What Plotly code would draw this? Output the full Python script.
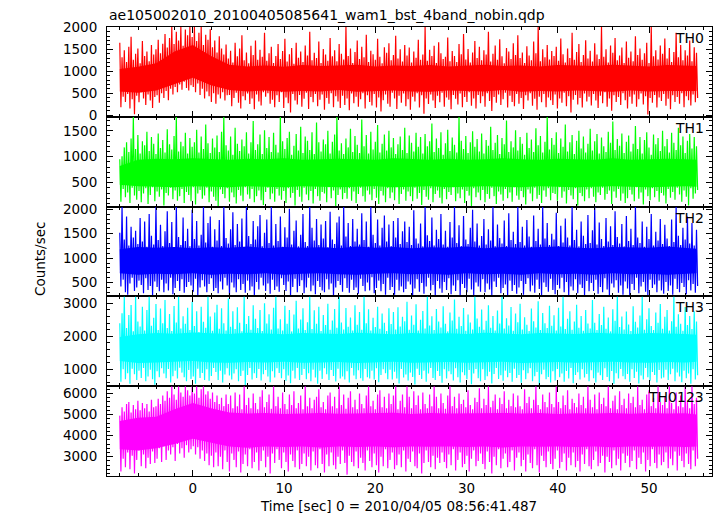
import numpy as np
import plotly.graph_objects as go
from plotly.subplots import make_subplots

# ---------------- data ----------------
TITLE = "ae105002010_20100405085641_wam1_bst_4band_nobin.qdp"
BANDS = ["TH0", "TH1", "TH2", "TH3", "TH0123"]
COLORS = ["#ff0000", "#00ff00", "#0000ff", "#00ffff", "#ff00ff"]
T_START, T_END = -8.0, 55.2          # time span of the light curves (s)

# local peak / trough count rates (counts/s), ~0.25 s apart
TH0_HI = [1650, 1320, 1480, 1210, 1560, 1790, 1260, 1400, 1520, 1180, 1690, 1350, 1450, 1230, 1600, 1380,
          1500, 1720, 1410, 1630, 1850, 1540, 1760, 2010, 1620, 1900, 1700, 2010, 1580, 1950, 1820, 2010,
          1780, 2010, 1690, 1880, 2010, 1600, 1830, 1720, 1960, 1550, 1700, 1430, 1800, 1520, 1380, 1610,
          1290, 1470, 1200, 1650, 1340, 1520, 1820, 1250, 1430, 1180, 1580, 1370, 1700, 1260, 1490, 1330,
          1880, 1240, 1410, 1560, 1190, 1350, 1620, 1280, 1460, 1740, 1220, 1390, 1530, 1170, 1650, 1310,
          1450, 1210, 1590, 1360, 1900, 1250, 1420, 1300, 1680, 1190, 1510, 1380, 1240, 1760, 1340, 1480,
          1230, 1620, 1400, 1270, 2010, 1350, 1520, 1190, 1440, 1700, 1280, 1560, 1320, 1830, 1210, 1470,
          1390, 1260, 1740, 1330, 1180, 1550, 1420, 1640, 1250, 1370, 1810, 1290, 1500, 1220, 1600, 1360,
          1540, 1200, 1450, 1310, 1720, 1260, 1380, 2010, 1240, 1490, 1350, 1580, 1190, 1660, 1410, 1280,
          1330, 1770, 1230, 1460, 1350, 1210, 1620, 1390, 1850, 1270, 1510, 1200, 1430, 1690, 1300, 1560,
          1250, 1480, 1380, 1900, 1220, 1400, 1590, 1260, 1730, 1340, 1180, 1530, 1450, 1280, 1640, 1370,
          1820, 1300, 1430, 1190, 1570, 1360, 1250, 1680, 1410, 2010, 1230, 1500, 1320, 1600, 1270, 1460,
          1350, 1560, 1240, 1750, 1390, 1200, 1520, 1300, 1880, 1260, 1440, 1620, 1210, 1370, 1710, 1290,
          1470, 1220, 1640, 1380, 1280, 2010, 1330, 1500, 1200, 1590, 1420, 1760, 1250, 1360, 1540, 1190,
          1680, 1310, 1450, 1230, 1800, 1370, 1520, 1260, 1410, 1650, 1190, 2010, 1340, 1480, 1270, 1590,
          1400, 1750, 1290, 1530, 1210, 1440, 1880, 1320, 1600, 1250, 1480, 1360, 1700, 1230, 1550, 1420]
TH0_LO = [180, 420, 300, 480, 150, 360, 20, 440, 290, 520, 380, 230, 470, 330, 160, 410,
          450, 280, 500, 390, 550, 340, 600, 470, 640, 520, 700, 580, 760, 620, 560, 680,
          640, 520, 720, 460, 600, 380, 540, 430, 300, 500, 260, 470, 380, 520, 330, 450,
          460, 200, 390, 510, 280, 150, 430, 340, 490, 250, 380, 130, 470, 310, 220, 520,
          420, 500, 260, 350, 180, 450, 300, 520, 160, 400, 270, 60, 480, 330, 240, 460,
          190, 370, 510, 140, 410, 290, 480, 200, 350, 470, 120, 390, 260, 500, 180, 430,
          310, 160, 440, 230, 380, 110, 490, 270, 420, 190, 360, 500, 150, 450, 300, 220,
          480, 170, 400, 80, 340, 470, 260, 190, 510, 380, 140, 440, 280, 490, 200, 360,
          120, 420, 310, 500, 170, 450, 30, 380, 250, 470, 330, 160, 440, 290, 510, 190,
          400, 350, 130, 460, 370, 240, 490, 180, 410, 300, 520, 210, 380, 150, 460, 270,
          430, 190, 500, 320, 90, 410, 280, 470, 230, 360, 510, 170, 440, 300, 200, 480,
          260, 390, 140, 450, 330, 500, 210, 370, 120, 420, 290, 480, 180, 400, 340, 230,
          470, 150, 380, 280, 510, 200, 430, 60, 350, 460, 240, 390, 170, 490, 310, 420,
          220, 480, 330, 160, 440, 270, 520, 190, 380, 100, 450, 300, 410, 230, 500, 340,
          150, 420, 260, 470, 190, 360, 490, 240, 430, 10, 390, 280, 460, 170, 400, 320,
          480, 210, 370, 130, 450, 300, 410, 260, 500, 180, 430, 340, 220, 470, 290, 390]

TH1_HI = [950, 1010, 1180, 1280, 1090, 1350, 1770, 1150, 1420, 1060, 1300, 1220, 1480, 1110, 1380, 1250,
          1050, 1450, 1170, 1320, 1080, 1530, 1240, 1140, 1400, 1770, 1100, 1290, 1200, 1460, 1060, 1360,
          1190, 1280, 1520, 1080, 1390, 1150, 1620, 1260, 1070, 1350, 1180, 1410, 1090, 1480, 1770, 1220,
          1120, 1390, 1040, 1560, 1250, 1110, 1330, 1200, 1470, 1060, 1280, 1690, 1130, 1240, 1430, 1050,
          1510, 1170, 1380, 1090, 1460, 1230, 1080, 1770, 1300, 1150, 1360, 1480, 1040, 1210, 1440, 1120,
          1580, 1070, 1390, 1310, 1130, 1470, 1050, 1660, 1280, 1100, 1330, 1240, 1500, 1060, 1290, 1430,
          1770, 1120, 1260, 1050, 1350, 1180, 1540, 1090, 1400, 1230, 1070, 1720, 1200, 1420, 1060, 1480,
          1140, 1290, 1610, 1080, 1250, 1430, 1120, 1500, 1180, 1360, 1050, 1240, 1390, 1130, 1560, 1070,
          1410, 1270, 1100, 1460, 1190, 1380, 1060, 1440, 1200, 1300, 1640, 1090, 1350, 1170, 1470, 1040,
          1260, 1520, 1110, 1370, 1230, 1080, 1770, 1310, 1150, 1400, 1070, 1280, 1490, 1190, 1340, 1100,
          1450, 1060, 1320, 1210, 1580, 1130, 1270, 1420, 1050, 1360, 1240, 1700, 1090, 1300, 1180, 1510,
          1120, 1380, 1250, 1040, 1460, 1170, 1330, 1090, 1550, 1220, 1400, 1080, 1290, 1770, 1140, 1360,
          1230, 1470, 1070, 1350, 1190, 1620, 1100, 1280, 1420, 1050, 1310, 1500, 1160, 1390, 1080, 1250,
          1540, 1120, 1300, 1440, 1060, 1370, 1200, 1090, 1480, 1270, 1680, 1130, 1340, 1210, 1450, 1070,
          1290, 1410, 1100, 1250, 1590, 1150, 1380, 1060, 1320, 1470, 1180, 1040, 1430, 1240, 1360, 1110,
          1500, 1200, 1340, 1080, 1460, 1270, 1130, 1560, 1220, 1390, 1070, 1310, 1440, 1160, 1380, 1200]
TH1_LO = [130, 380, 220, 310, 110, 400, 250, 170, 340, 120, 290, 390, 90, 260, 410, 140,
          330, 230, 370, 60, 300, 250, 400, 180, 350, 150, 240, 380, 110, 320, 260, 140,
          410, 80, 290, 360, 190, 250, 400, 120, 330, 230, 150, 40, 370, 280, 200, 390,
          130, 310, 220, 100, 360, 250, 140, 410, 270, 190, 380, 120, 240, 350, 160, 70,
          320, 400, 180, 290, 130, 380, 250, 170, 340, 110, 390, 210, 300, 60, 360, 230,
          130, 400, 270, 160, 340, 100, 380, 240, 150, 320, 290, 120, 410, 200, 350, 40,
          260, 370, 180, 300, 190, 390, 150, 330, 110, 280, 400, 240, 130, 350, 270, 160,
          380, 210, 90, 340, 250, 120, 390, 200, 310, 160, 410, 90, 280, 370, 150, 330,
          240, 140, 400, 190, 300, 70, 360, 230, 170, 390, 120, 280, 350, 210, 100, 380,
          180, 320, 260, 410, 140, 290, 200, 370, 110, 340, 250, 50, 390, 220, 310, 160,
          360, 120, 280, 190, 400, 240, 90, 330, 270, 150, 380, 200, 310, 130, 410, 250,
          170, 340, 220, 80, 370, 290, 140, 400, 190, 260, 110, 350, 230, 390, 160, 300,
          280, 150, 410, 210, 330, 100, 360, 250, 180, 390, 60, 300, 240, 140, 370, 200,
          390, 230, 120, 310, 260, 400, 170, 280, 350, 90, 330, 210, 380, 150, 290, 110,
          200, 360, 270, 140, 410, 190, 310, 80, 370, 240, 160, 390, 220, 340, 130, 300,
          250, 100, 380, 210, 320, 170, 400, 270, 130, 350, 230, 60, 390, 190, 290, 360]

TH2_HI = [1520, 2054, 1380, 1850, 1260, 1640, 1420, 1560, 1290, 1820, 1340, 1750, 1230, 1900, 1460, 1280,
          2054, 1370, 1680, 1250, 1550, 1960, 1310, 1740, 1220, 2054, 1430, 1270, 1830, 1350, 1600, 1240,
          1990, 1390, 1760, 1260, 1480, 2054, 1320, 1720, 1850, 1230, 1590, 1360, 1780, 1250, 2054, 1410,
          1300, 1590, 1940, 1270, 1700, 1340, 1810, 1220, 2054, 1450, 1290, 1760, 1380, 1650, 1880, 1240,
          1520, 1790, 1310, 2054, 1260, 1700, 1350, 1850, 1230, 1630, 1420, 2010, 1280, 1560, 1770, 1240,
          1480, 1900, 1330, 1250, 2054, 1620, 1360, 1800, 1270, 1690, 1400, 1760, 1220, 1950, 1380, 1290,
          1730, 1850, 1260, 2054, 1440, 1720, 1250, 1800, 1340, 1600, 1280, 1920, 1370, 1750, 1230, 2054,
          1480, 1310, 1790, 1260, 1620, 1870, 1340, 1690, 1250, 1760, 1420, 1820, 1290, 1550, 1750, 1330,
          1640, 1270, 1980, 1400, 1300, 1710, 1240, 2054, 1470, 1350, 1830, 1260, 1580, 1390, 1900, 1280,
          1560, 1230, 1740, 1420, 2054, 1310, 1670, 1250, 1860, 1380, 1290, 1620, 1990, 1340, 1710, 1260,
          1450, 1800, 1280, 1590, 1360, 2054, 1240, 1690, 1410, 1300, 1770, 1250, 1920, 1370, 1540, 1290,
          2054, 1330, 1640, 1260, 1780, 1440, 1230, 1870, 1350, 1600, 1280, 2054, 1400, 1720, 1270, 1500,
          1380, 1930, 1250, 1660, 1320, 1810, 1420, 1260, 2054, 1370, 1580, 1240, 1750, 1460, 1290, 1880,
          1310, 1570, 2054, 1280, 1730, 1390, 1250, 1820, 1340, 1650, 1270, 1960, 1430, 1300, 1700, 1240,
          1860, 1350, 1600, 1270, 2054, 1420, 1310, 1750, 1230, 1640, 1390, 1900, 1260, 1540, 1360, 1800,
          1290, 1680, 1400, 1250, 1790, 1330, 2054, 1460, 1270, 1620, 1380, 1850, 1300, 1720, 1260, 1580]
TH2_LO = [420, 560, 300, 250, 480, 600, 330, 400, 540, 450, 280, 590, 350, 430, 240, 520,
          410, 320, 560, 300, 480, 340, 600, 260, 390, 530, 330, 570, 290, 410, 510, 440,
          310, 580, 230, 400, 550, 420, 300, 470, 590, 330, 390, 280, 520, 360, 600, 440,
          250, 500, 400, 300, 570, 350, 470, 290, 540, 340, 420, 230, 510, 360, 600, 440,
          330, 480, 270, 560, 350, 420, 310, 590, 450, 330, 520, 240, 410, 580, 300, 430,
          550, 280, 400, 600, 320, 440, 260, 530, 410, 340, 300, 570, 360, 480, 230, 400,
          530, 450, 310, 590, 390, 290, 560, 350, 400, 270, 580, 430, 320, 500, 340, 610,
          280, 390, 540, 320, 470, 250, 600, 350, 410, 250, 560, 340, 420, 300, 370, 520,
          460, 230, 380, 570, 310, 490, 270, 420, 600, 340, 450, 240, 530, 380, 290, 510,
          350, 590, 260, 440, 330, 550, 230, 470, 390, 300, 580, 360, 240, 500, 420, 310,
          570, 300, 480, 360, 240, 520, 410, 600, 280, 390, 460, 230, 540, 330, 450, 270,
          400, 530, 250, 470, 590, 320, 440, 290, 560, 370, 230, 500, 410, 310, 580, 350,
          260, 450, 380, 600, 300, 510, 240, 420, 340, 570, 280, 460, 390, 230, 530, 320,
          490, 330, 560, 270, 410, 300, 590, 360, 240, 480, 400, 550, 290, 440, 250, 520,
          380, 240, 470, 350, 600, 280, 420, 510, 310, 230, 560, 390, 460, 300, 540, 340,
          270, 510, 330, 440, 250, 580, 370, 300, 490, 410, 260, 550, 340, 470, 290, 430]

TH3_HI = [2400, 2700, 3211, 2250, 2650, 2950, 2150, 3211, 2450, 2300, 2900, 2180, 2800, 3211, 2320, 2560,
          2980, 2190, 2840, 2400, 3100, 2250, 2680, 2160, 2920, 2420, 3211, 2240, 2610, 2380, 2870, 2190,
          3050, 2310, 2760, 2130, 2900, 2440, 2260, 3211, 2600, 2170, 2720, 2960, 2230, 2850, 2400, 2180,
          3150, 2290, 2760, 2220, 2880, 2410, 2150, 3211, 2370, 2620, 2200, 2940, 2530, 2250, 2800, 2160,
          3000, 2390, 2670, 2210, 2870, 3211, 2240, 2520, 2180, 2930, 2380, 2800, 2150, 2660, 3080, 2240,
          2510, 2850, 2190, 2430, 3211, 2220, 2790, 2380, 2900, 2160, 2650, 2340, 2990, 2200, 2480, 2830,
          2260, 3211, 2420, 2210, 2860, 2290, 2570, 2180, 2940, 2350, 2740, 2200, 3211, 2400, 2820, 2180,
          2560, 2280, 2900, 2230, 2690, 2410, 2160, 2850, 2370, 2740, 2210, 2880, 2300, 2590, 2460, 3050,
          2200, 2630, 2350, 2970, 2180, 2500, 2770, 2240, 3211, 2330, 2610, 2190, 2830, 2450, 2270, 2910,
          2380, 2150, 2720, 2480, 3120, 2230, 2590, 2310, 2860, 2170, 2660, 2420, 2210, 3211, 2540, 2290,
          2810, 2200, 2470, 2940, 2260, 2620, 2180, 2780, 2390, 3211, 2240, 2550, 2330, 2890, 2170, 2690,
          2430, 2990, 2210, 2580, 2350, 2160, 2840, 2460, 2270, 3060, 2190, 2710, 2400, 2250, 2930, 2320,
          2640, 2180, 2870, 2300, 3211, 2220, 2530, 2760, 2200, 2450, 2960, 2260, 2620, 2170, 2800, 2390,
          2240, 3100, 2410, 2190, 2680, 2340, 2900, 2230, 2570, 2150, 2820, 2470, 3211, 2280, 2600, 2210,
          2750, 2360, 2160, 2910, 2440, 2270, 2630, 3211, 2200, 2520, 2850, 2310, 2190, 2720, 2410, 2980,
          2230, 2590, 2800, 2180, 2460, 3211, 2290, 2670, 2380, 2170, 2890, 2340, 2620, 2220, 2760, 2450]
TH3_LO = [620, 1000, 700, 880, 560, 1020, 850, 680, 960, 740, 1040, 640, 780, 990, 700, 530,
          940, 760, 1030, 870, 730, 1010, 600, 790, 960, 720, 1050, 900, 760, 640, 980, 710,
          780, 560, 1020, 740, 890, 680, 1000, 650, 800, 1040, 920, 680, 960, 600, 840, 1030,
          810, 690, 870, 1000, 640, 800, 960, 520, 830, 1040, 690, 880, 740, 1010, 660, 850,
          980, 780, 610, 940, 750, 1030, 890, 730, 1000, 650, 810, 580, 960, 720, 1040, 680,
          830, 1010, 700, 880, 640, 990, 750, 560, 960, 710, 1030, 850, 680, 980, 800, 630,
          1020, 720, 780, 690, 940, 600, 1040, 810, 700, 970, 730, 650, 1010, 760, 720, 960,
          690, 1030, 610, 830, 1000, 880, 700, 990, 690, 930, 720, 570, 1010, 750, 840, 660,
          900, 770, 540, 1020, 830, 710, 960, 620, 870, 1040, 740, 680, 950, 800, 590, 1000,
          720, 940, 850, 660, 1030, 760, 600, 910, 820, 700, 980, 550, 870, 1010, 730, 640,
          1000, 680, 790, 930, 570, 860, 1040, 710, 820, 650, 960, 760, 890, 620, 1020, 740,
          830, 590, 970, 700, 880, 1030, 640, 790, 920, 510, 850, 990, 700, 770, 600, 940,
          660, 1010, 760, 870, 620, 950, 720, 1040, 580, 830, 910, 690, 1000, 750, 860, 640,
          970, 730, 600, 900, 820, 680, 1030, 770, 640, 950, 560, 880, 720, 1010, 790, 700,
          860, 620, 1000, 740, 930, 570, 810, 690, 1040, 760, 650, 920, 830, 600, 980, 720,
          750, 990, 680, 850, 1020, 640, 900, 780, 610, 960, 730, 870, 560, 1000, 690, 820]

TH0123_HI = [4950, 5350, 5150, 5500, 5600, 5100, 5450, 5250, 5650, 5200, 5550, 5300, 5500, 5150, 5700, 5350,
             5400, 5750, 5500, 5900, 5650, 6100, 5800, 6346, 5950, 5700, 6346, 6050, 5850, 6346, 6150, 5900,
             6346, 6000, 6346, 5800, 6200, 6346, 5950, 6100, 5750, 6050, 5600, 5900, 5500, 5800, 5400, 5950,
             5500, 5900, 5300, 6050, 5400, 5950, 5250, 6346, 5450, 5800, 5300, 6000, 5550, 5250, 5850, 6150,
             5350, 5600, 5950, 5280, 6346, 5400, 5850, 5300, 6050, 5500, 5250, 5950, 5450, 6100, 5300, 5550,
             5900, 5250, 6346, 5400, 5800, 5300, 5700, 5850, 6200, 5350, 5600, 5250, 5900, 6050, 5400, 5850,
             5300, 6346, 5450, 5950, 5280, 5800, 6100, 5350, 5700, 5250, 6000, 5500, 5300, 5900, 6346, 5400,
             5650, 5250, 5950, 6150, 5350, 5850, 5300, 6000, 5500, 5900, 6346, 5250, 5650, 5950, 5350, 6346,
             5850, 5300, 6100, 5450, 5900, 5250, 6050, 5500, 5300, 5950, 5400, 6346, 5850, 5300, 6000, 5550,
             5280, 5900, 6346, 5400, 5850, 5300, 6000, 5500, 5700, 5350, 6150, 5450, 5250, 5800, 5600, 6250,
             5300, 5750, 5450, 6346, 5350, 5650, 5950, 5250, 5800, 5500, 6100, 5300, 5700, 5400, 6000, 5350,
             5900, 5400, 5250, 6200, 5550, 5850, 5300, 5700, 6346, 5450, 5250, 5950, 5600, 5350, 6050, 5500,
             5350, 6346, 5600, 5300, 5900, 5450, 6150, 5250, 5750, 5550, 5350, 6000, 5450, 5850, 5300, 6346,
             5700, 5350, 5950, 5250, 6050, 5500, 5800, 5400, 6346, 5300, 5650, 5900, 5250, 6100, 5450, 5750,
             5300, 6000, 5550, 5850, 5350, 6346, 5450, 5700, 5250, 5950, 6150, 5400, 5800, 5300, 6346, 5600,
             5450, 5850, 5300, 6346, 5550, 5250, 6050, 5400, 5900, 5350, 6346, 5600, 5300, 6346, 5500, 5800]
TH0123_LO = [2300, 2900, 2500, 3200, 2400, 3050, 2200, 2850, 3300, 2550, 3100, 2450, 2950, 2650, 3250, 2700,
             2900, 3400, 2750, 3500, 2850, 3300, 3100, 3450, 2800, 3600, 3150, 3400, 2950, 3550, 3200, 3350,
             3500, 3100, 3450, 2900, 3300, 2800, 3150, 2600, 3050, 2500, 3200, 2550, 3000, 2400, 3300, 2750,
             2300, 3150, 2850, 2500, 3250, 2250, 2650, 3100, 2550, 3350, 2450, 2750, 3200, 2350, 2800, 3300,
             2500, 3000, 2200, 3150, 2700, 3350, 2850, 2450, 3200, 2750, 2300, 3100, 2800, 2500, 3300, 2400,
             2650, 3150, 2550, 3000, 2350, 3250, 2600, 2450, 3350, 2650, 2250, 3100, 2550, 3200, 2600, 2400,
             3000, 2650, 3300, 2700, 2150, 3050, 2750, 2550, 3250, 2450, 2950, 2700, 2350, 3300, 2800, 2500,
             3150, 2600, 2250, 3000, 2550, 3350, 2450, 2850, 3200, 2400, 2600, 3100, 2500, 3300, 2300, 2900,
             2750, 3250, 2550, 2450, 3150, 2200, 2700, 3300, 2750, 2500, 3050, 2400, 2950, 2700, 3200, 2750,
             2450, 3100, 2600, 3350, 2350, 2850, 3200, 2500, 2650, 3050, 2300, 2900, 3300, 2550, 2800, 3150,
             2650, 2400, 3250, 2750, 2200, 3000, 2600, 3350, 2450, 2900, 3150, 2500, 2750, 3300, 2350, 2950,
             3200, 2550, 2850, 2300, 3100, 2700, 2450, 3350, 2600, 2250, 3050, 2800, 2500, 3250, 2650, 2400,
             2900, 3300, 2450, 2750, 3150, 2350, 2950, 2600, 3200, 2500, 2800, 2300, 3100, 2650, 3350, 2550,
             2400, 2850, 3250, 2550, 2700, 3050, 2250, 3000, 2750, 2450, 3300, 2600, 2900, 2350, 3150, 2700,
             3050, 2500, 2800, 3300, 2400, 2950, 2650, 3200, 2300, 2850, 2550, 3350, 2700, 2450, 3100, 2600,
             2750, 3200, 2450, 2900, 2600, 3250, 2350, 3050, 2800, 2500, 3150, 2650, 2400, 3300, 2550, 2900]

# densest (solid-looking) part of each curve, counts/s, every 2 s
T_CORE = [-8, -6, -4, -2, 0, 2, 4, 6, 8, 10, 12, 14, 16, 18, 20, 22, 24, 26, 28, 30,
          32, 34, 36, 38, 40, 42, 44, 46, 48, 50, 52, 54, 55.2]
TH0_CORE_LO = [540, 510, 560, 700, 850, 680, 570, 540, 560, 530, 550, 540, 570, 530, 550, 560, 540,
               530, 560, 550, 540, 570, 530, 550, 540, 560, 550, 530, 560, 540, 550, 540, 550]
TH0_CORE_HI = [1050, 1100, 1180, 1450, 1600, 1350, 1150, 1110, 1130, 1100, 1140, 1120, 1130, 1150, 1110,
               1130, 1120, 1140, 1110, 1130, 1150, 1120, 1130, 1110, 1140, 1130, 1120, 1150, 1130, 1110,
               1140, 1130, 1120]
TH1_CORE_LO = [460, 430, 420, 410, 430, 420, 410, 430, 420, 410, 430, 420, 410, 420, 430, 410, 420,
               430, 410, 420, 430, 420, 410, 430, 420, 410, 420, 430, 420, 410, 420, 430, 420]
TH1_CORE_HI = [820, 940, 960, 950, 970, 950, 940, 960, 950, 970, 940, 950, 960, 950, 940,
               970, 950, 940, 960, 940, 950, 970, 950, 940, 960, 950, 940, 970, 940, 950,
               960, 950, 940]
TH2_CORE_LO = [690, 660, 680, 670, 690, 660, 680, 670, 690, 660, 680, 690, 670, 660, 680, 690, 670,
               680, 660, 690, 670, 680, 660, 690, 670, 680, 660, 690, 670, 680, 660, 680, 690]
TH2_CORE_HI = [1180, 1230, 1210, 1230, 1200, 1220, 1210, 1240, 1200, 1230, 1210, 1220, 1200, 1240, 1210,
               1230, 1200, 1220, 1210, 1240, 1200, 1230, 1210, 1220, 1240, 1210, 1200, 1230, 1220, 1210,
               1240, 1210, 1190]
TH3_CORE_LO = [1250, 1190, 1210, 1230, 1250, 1210, 1200, 1220, 1210, 1230, 1200, 1210, 1220, 1190, 1210,
               1230, 1200, 1210, 1220, 1200, 1210, 1230, 1190, 1210, 1220, 1200, 1210, 1230, 1210, 1200,
               1220, 1210, 1230]
TH3_CORE_HI = [1980, 2060, 2100, 2080, 2120, 2090, 2070, 2110, 2080, 2060, 2100, 2080, 2070, 2110, 2090,
               2060, 2100, 2080, 2090, 2070, 2110, 2080, 2060, 2100, 2090, 2070, 2110, 2080, 2060, 2100,
               2090, 2070, 2050]
TH0123_CORE_LO = [3350, 3300, 3400, 3600, 3850, 3650, 3480, 3430, 3480, 3460, 3480, 3440, 3490, 3460, 3480,
                  3450, 3480, 3470, 3490, 3460, 3480, 3440, 3480, 3470, 3490, 3460, 3480, 3450, 3480, 3470,
                  3490, 3460, 3480]
TH0123_CORE_HI = [4700, 4850, 4900, 5250, 5550, 5300, 5100, 5050, 5070, 5030, 5050, 5080, 5040, 5060, 5050,
                  5090, 5030, 5070, 5050, 5060, 5040, 5080, 5050, 5070, 5030, 5060, 5050, 5080, 5040, 5070,
                  5050, 5060, 5000]

HI = [TH0_HI, TH1_HI, TH2_HI, TH3_HI, TH0123_HI]
LO = [TH0_LO, TH1_LO, TH2_LO, TH3_LO, TH0123_LO]
CORE_LO = [TH0_CORE_LO, TH1_CORE_LO, TH2_CORE_LO, TH3_CORE_LO, TH0123_CORE_LO]
CORE_HI = [TH0_CORE_HI, TH1_CORE_HI, TH2_CORE_HI, TH3_CORE_HI, TH0123_CORE_HI]

Y_RANGES = [[-40, 2010], [38, 1770], [217, 2054], [488, 3211], [2085, 6346]]
Y_DTICK = [500, 500, 500, 1000, 1000]
Y_MINOR = [100, 100, 100, 200, 200]
X_RANGE = [-9.4, 56.9]

# ---------------- figure ----------------
FONT = "DejaVu Sans"
fig = make_subplots(rows=5, cols=1, shared_xaxes=True, vertical_spacing=0)


def curve(hi, lo):
    """Merge the peak and trough samples into one time-ordered light curve."""
    t_hi = np.linspace(T_START, T_END, len(hi))
    half = (T_END - T_START) / (len(hi) - 1) / 2
    t_lo = np.linspace(T_START + half, T_END + half, len(lo))
    t = np.concatenate([t_hi, t_lo])
    v = np.concatenate([np.asarray(hi, float), np.asarray(lo, float)])
    order = np.argsort(t, kind="stable")
    return t[order], v[order]


for i in range(5):
    r = i + 1
    col = COLORS[i]
    fig.add_trace(go.Scatter(x=T_CORE, y=CORE_LO[i], mode="lines", line=dict(width=0, color=col),
                             showlegend=False, hoverinfo="skip"), row=r, col=1)
    fig.add_trace(go.Scatter(x=T_CORE, y=CORE_HI[i], mode="lines", line=dict(width=0, color=col),
                             fill="tonexty", fillcolor=col, showlegend=False, hoverinfo="skip"),
                  row=r, col=1)
    xs, ys = curve(HI[i], LO[i])
    fig.add_trace(go.Scatter(x=xs, y=ys, mode="lines", line=dict(width=1.2, color=col, simplify=False),
                             showlegend=False, name=BANDS[i]), row=r, col=1)

    fig.update_yaxes(row=r, col=1, range=Y_RANGES[i], dtick=Y_DTICK[i], tick0=0,
                     ticks="inside", ticklen=6, tickwidth=1, tickcolor="black",
                     minor=dict(dtick=Y_MINOR[i], tick0=0, ticks="inside", ticklen=3,
                                tickcolor="black", tickwidth=1),
                     showline=True, linecolor="black", linewidth=1, mirror="ticks",
                     showgrid=False, zeroline=False,
                     tickfont=dict(family=FONT, size=13.5, color="black"),
                     ticklabelstandoff=6)
    fig.update_xaxes(row=r, col=1, range=X_RANGE, dtick=10, tick0=0,
                     ticks="inside", ticklen=6, tickwidth=1, tickcolor="black",
                     minor=dict(dtick=2, tick0=0, ticks="inside", ticklen=3,
                                tickcolor="black", tickwidth=1),
                     showline=True, linecolor="black", linewidth=1, mirror="ticks",
                     showgrid=False, zeroline=False,
                     tickfont=dict(family=FONT, size=13.5, color="black"))

    dom = fig.layout["yaxis" + ("" if r == 1 else str(r))].domain
    fig.add_annotation(text=BANDS[i], xref="paper", yref="paper", x=0.99, y=dom[1],
                       xanchor="right", yanchor="top", yshift=-1, showarrow=False,
                       font=dict(family=FONT, size=14, color="black"))

fig.add_annotation(text=TITLE, xref="paper", yref="paper", x=0, y=1 + 12 / 449,
                   xanchor="left", yanchor="middle", showarrow=False,
                   font=dict(family=FONT, size=14, color="black"))
fig.add_annotation(text="Time [sec] 0 = 2010/04/05 08:56:41.487", xref="paper", yref="paper",
                   x=(398 - 107) / 605, y=-30 / 449, xanchor="center", yanchor="middle",
                   showarrow=False, font=dict(family=FONT, size=13.5, color="black"))
fig.add_annotation(text="Counts/sec", xref="paper", yref="paper",
                   x=(40 - 107) / 605, y=(476 - 259) / 449, xanchor="center", yanchor="middle",
                   textangle=-90, showarrow=False, font=dict(family=FONT, size=13.5, color="black"))

fig.update_layout(width=717, height=516, margin=dict(l=107, r=5, t=27, b=40),
                  plot_bgcolor="white", paper_bgcolor="white", showlegend=False)

fig.write_html("out.html", config={"displayModeBar": False},
               post_script="document.body.style.margin='0';")
